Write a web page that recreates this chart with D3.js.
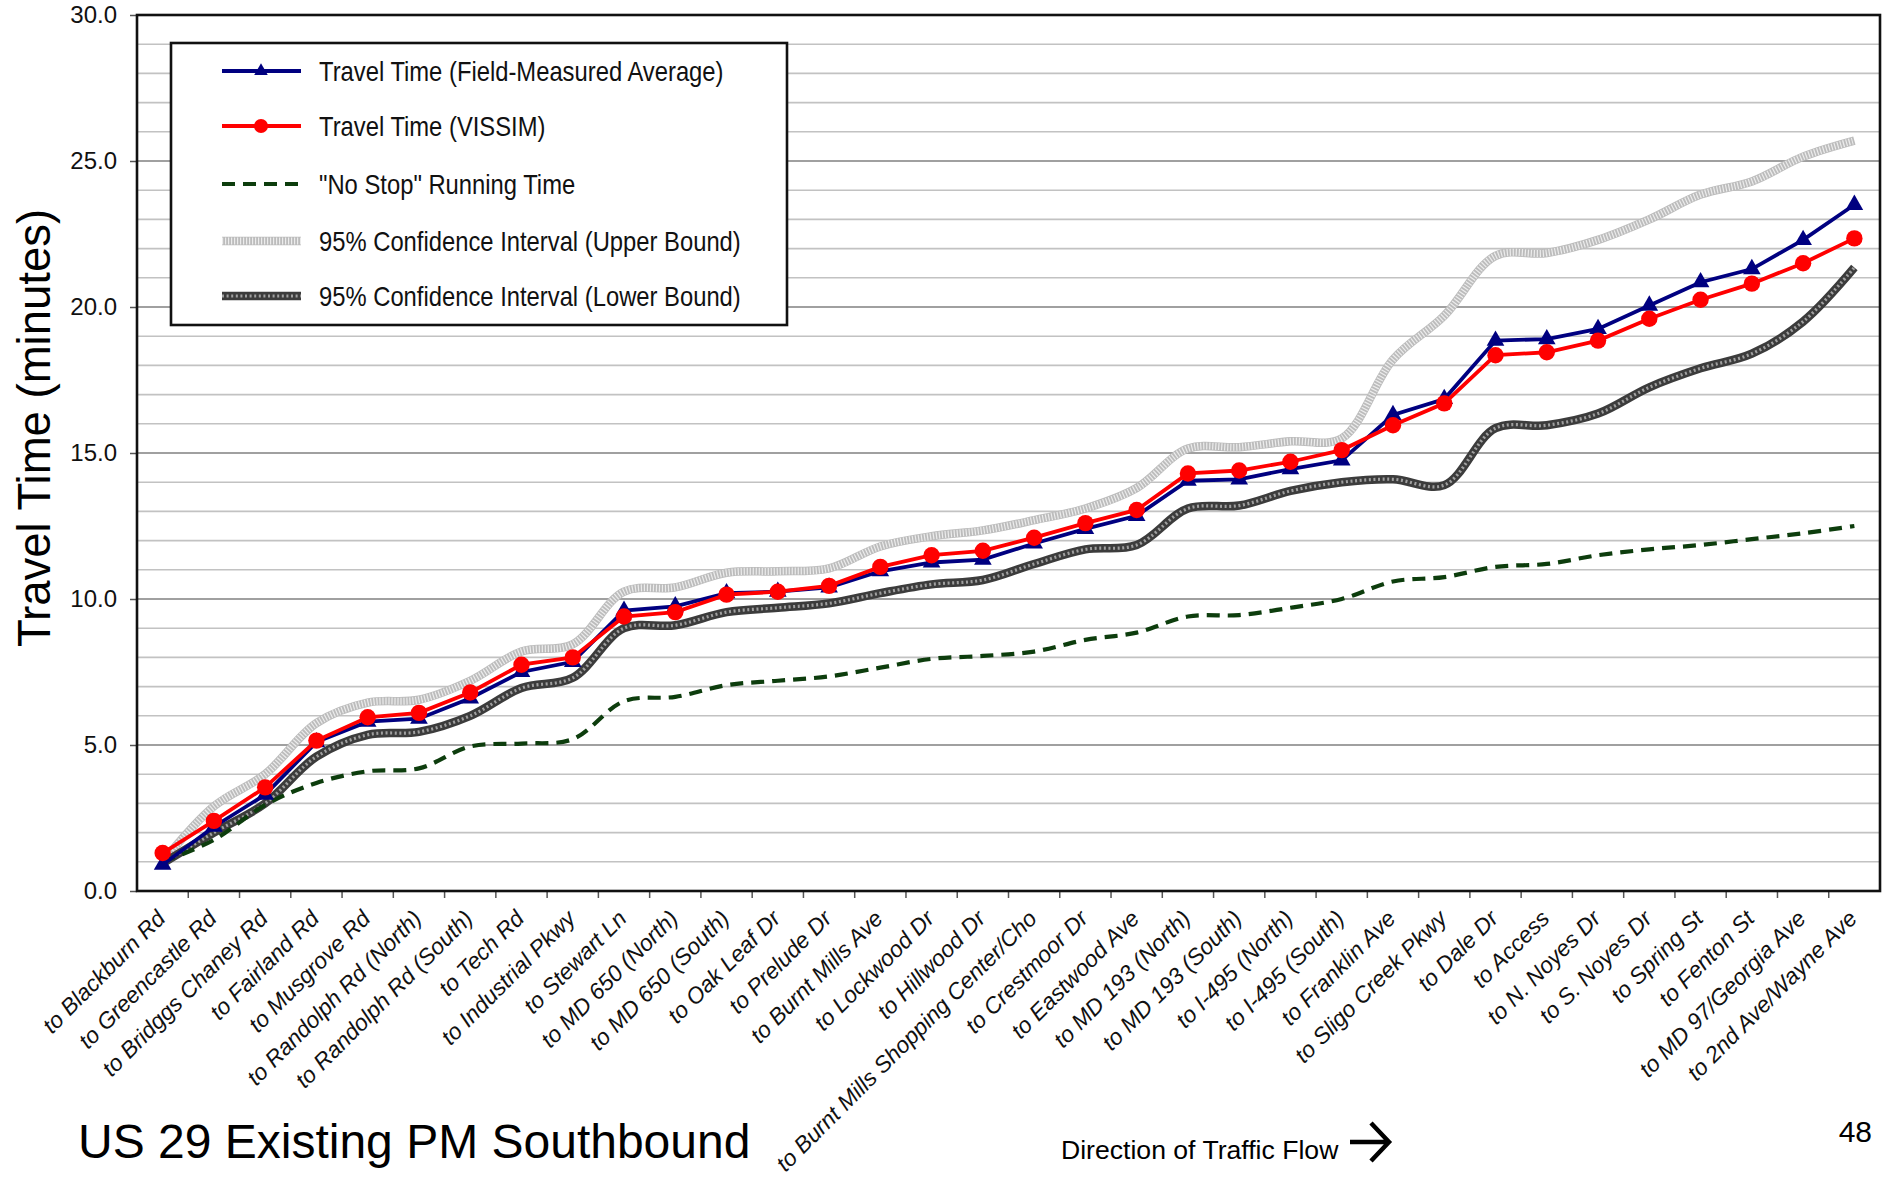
<!DOCTYPE html>
<html>
<head>
<meta charset="utf-8">
<script src="https://cdn.jsdelivr.net/npm/d3@7"></script>
<style>
  html, body { margin: 0; padding: 0; background: #ffffff; }
  svg { display: block; }
</style>
</head>
<body>
<svg id="chart" width="1886" height="1179"></svg>
<script>
// Segments along US 29 southbound, PM peak
const categories = [
  "to Blackburn Rd", "to Greencastle Rd", "to Bridggs Chaney Rd", "to Fairland Rd",
  "to Musgrove Rd", "to Randolph Rd (North)", "to Randolph Rd (South)", "to Tech Rd",
  "to Industrial Pkwy", "to Stewart Ln", "to MD 650 (North)", "to MD 650 (South)",
  "to Oak Leaf Dr", "to Prelude Dr", "to Burnt Mills Ave", "to Lockwood Dr",
  "to Hillwood Dr", "to Burnt Mills Shopping Center/Cho", "to Crestmoor Dr", "to Eastwood Ave",
  "to MD 193 (North)", "to MD 193 (South)", "to I-495 (North)", "to I-495 (South)",
  "to Franklin Ave", "to Sligo Creek Pkwy", "to Dale Dr", "to Access",
  "to N. Noyes Dr", "to S. Noyes Dr", "to Spring St", "to Fenton St",
  "to MD 97/Georgia Ave", "to 2nd Ave/Wayne Ave"
];

// Cumulative travel time (minutes)
const fieldMeasured = [
  0.9, 2.2, 3.3, 5.1, 5.8, 5.9, 6.6, 7.5, 7.85, 9.6, 9.75, 10.2,
  10.25, 10.4, 10.95, 11.25, 11.35, 11.9, 12.4, 12.85, 14.05, 14.1, 14.45, 14.75,
  16.3, 16.85, 18.85, 18.9, 19.25, 20.05, 20.85, 21.3, 22.3, 23.5
];
const vissim = [
  1.3, 2.4, 3.55, 5.15, 5.95, 6.1, 6.8, 7.75, 8.0, 9.4, 9.55, 10.15,
  10.25, 10.45, 11.1, 11.5, 11.65, 12.1, 12.6, 13.05, 14.3, 14.4, 14.7, 15.1,
  15.95, 16.7, 18.35, 18.45, 18.85, 19.6, 20.25, 20.8, 21.5, 22.35
];
const noStop = [
  1.0, 1.75, 2.95, 3.7, 4.1, 4.2, 4.95, 5.05, 5.2, 6.5, 6.65, 7.05,
  7.2, 7.35, 7.65, 7.95, 8.05, 8.2, 8.6, 8.85, 9.4, 9.45, 9.7, 10.0,
  10.6, 10.75, 11.1, 11.2, 11.5, 11.7, 11.85, 12.05, 12.25, 12.5
];
const ciUpper = [
  1.0, 2.9, 4.0, 5.75, 6.45, 6.55, 7.2, 8.2, 8.45, 10.25, 10.4, 10.9,
  10.95, 11.05, 11.8, 12.15, 12.35, 12.7, 13.1, 13.8, 15.15, 15.2, 15.4, 15.5,
  18.2, 19.7, 21.75, 21.85, 22.3, 23.0, 23.85, 24.3, 25.15, 25.7
];
const ciLower = [
  0.95, 2.0, 3.0, 4.6, 5.35, 5.45, 6.0, 6.95, 7.3, 9.0, 9.1, 9.55,
  9.7, 9.85, 10.2, 10.5, 10.65, 11.2, 11.7, 11.85, 13.1, 13.2, 13.7, 14.0,
  14.1, 13.9, 15.85, 15.95, 16.35, 17.25, 17.9, 18.4, 19.5, 21.35
];

const yTicks = [0, 5, 10, 15, 20, 25, 30];
const legendLabels = [
  "Travel Time (Field-Measured Average)",
  "Travel Time (VISSIM)",
  "\"No Stop\" Running Time",
  "95% Confidence Interval (Upper Bound)",
  "95% Confidence Interval (Lower Bound)"
];

const svg = d3.select("#chart");
const plot = { left: 137, right: 1880, top: 15, bottom: 891 };
const sans = "'Liberation Sans', Arial, Helvetica, sans-serif";

const x = d3.scaleBand().domain(categories).range([plot.left, plot.right]).padding(0);
const y = d3.scaleLinear().domain([0, 30]).range([plot.bottom, plot.top]);
const cx = c => x(c) + x.bandwidth() / 2;

// Horizontal gridlines, one per minute
const grid = svg.append("g");
grid.selectAll("line")
  .data(d3.range(1, 30))
  .join("line")
  .attr("x1", plot.left).attr("x2", plot.right)
  .attr("y1", d => y(d)).attr("y2", d => y(d))
  .attr("stroke", d => d % 5 === 0 ? "#a0a0a0" : "#c2c2c2")
  .attr("stroke-width", d => d % 5 === 0 ? 2 : 1.6);

// Y axis
const yAxis = svg.append("g")
  .attr("transform", `translate(${plot.left},0)`)
  .call(d3.axisLeft(y).tickValues(yTicks).tickFormat(d3.format(".1f")).tickSize(7).tickPadding(13));
yAxis.select(".domain").remove();
yAxis.selectAll(".tick line").attr("stroke", "#555").attr("stroke-width", 1.5);
yAxis.selectAll(".tick text")
  .attr("font-family", sans).attr("font-size", 24).attr("fill", "#111");

// Category boundary ticks on the x axis
svg.append("g").selectAll("line")
  .data(categories.slice(1))
  .join("line")
  .attr("x1", d => x(d)).attr("x2", d => x(d))
  .attr("y1", plot.bottom).attr("y2", plot.bottom + 7)
  .attr("stroke", "#555").attr("stroke-width", 1.5);

// Rotated category labels
svg.append("g").selectAll("text")
  .data(categories)
  .join("text")
  .attr("transform", d => `translate(${cx(d) + 4},${plot.bottom + 29}) rotate(-45)`)
  .attr("text-anchor", "end")
  .attr("font-family", sans)
  .attr("font-style", "italic")
  .attr("font-size", 22.8)
  .attr("fill", "#111")
  .text(d => d);

// Series lines
const pts = vals => categories.map((c, i) => [cx(c), y(vals[i])]);
const smooth = d3.line().curve(d3.curveCatmullRom.alpha(0.5));
const straight = d3.line();

const series = svg.append("g");

function drawUpper(g, path) {
  g.append("path").attr("d", path).attr("fill", "none")
    .attr("stroke", "#bcbcbc").attr("stroke-width", 8.5);
  g.append("path").attr("d", path).attr("fill", "none")
    .attr("stroke", "#ececec").attr("stroke-width", 7)
    .attr("stroke-dasharray", "1.2,1.8");
}
function drawLower(g, path) {
  g.append("path").attr("d", path).attr("fill", "none")
    .attr("stroke", "#3c3c3c").attr("stroke-width", 8.5);
  g.append("path").attr("d", path).attr("fill", "none")
    .attr("stroke", "#a0a0a0").attr("stroke-width", 3.2)
    .attr("stroke-dasharray", "2,2.6");
}
function drawNoStop(g, path) {
  g.append("path").attr("d", path).attr("fill", "none")
    .attr("stroke", "#0d3d0d").attr("stroke-width", 4.2)
    .attr("stroke-dasharray", "13,8");
}

drawUpper(series, smooth(pts(ciUpper)));
drawLower(series, smooth(pts(ciLower)));
drawNoStop(series, smooth(pts(noStop)));

// Field-measured average: navy with triangles
series.append("path").attr("d", straight(pts(fieldMeasured)))
  .attr("fill", "none").attr("stroke", "#000080").attr("stroke-width", 3.8);
const tri = d3.symbol(d3.symbolTriangle, 135);
series.append("g").selectAll("path")
  .data(categories)
  .join("path")
  .attr("d", tri)
  .attr("transform", (d, i) => `translate(${cx(d)},${y(fieldMeasured[i])})`)
  .attr("fill", "#000080");

// VISSIM: red with circles
series.append("path").attr("d", straight(pts(vissim)))
  .attr("fill", "none").attr("stroke", "#ff0000").attr("stroke-width", 3.8);
series.append("g").selectAll("circle")
  .data(categories)
  .join("circle")
  .attr("cx", d => cx(d))
  .attr("cy", (d, i) => y(vissim[i]))
  .attr("r", 8.2)
  .attr("fill", "#ff0000");

// Plot frame
svg.append("rect")
  .attr("x", plot.left).attr("y", plot.top)
  .attr("width", plot.right - plot.left).attr("height", plot.bottom - plot.top)
  .attr("fill", "none").attr("stroke", "#111").attr("stroke-width", 2.6);

// Legend
const lg = svg.append("g");
lg.append("rect")
  .attr("x", 171).attr("y", 43).attr("width", 616).attr("height", 282)
  .attr("fill", "#ffffff").attr("stroke", "#111").attr("stroke-width", 2.6);
const rowY = [71, 126, 184, 241, 296];
const sx1 = 222, sx2 = 301, smid = 261;
// row 0
lg.append("line").attr("x1", sx1).attr("x2", sx2).attr("y1", rowY[0]).attr("y2", rowY[0])
  .attr("stroke", "#000080").attr("stroke-width", 4.2);
lg.append("path").attr("d", d3.symbol(d3.symbolTriangle, 80)).attr("transform", `translate(${smid},${rowY[0]})`)
  .attr("fill", "#000080");
// row 1
lg.append("line").attr("x1", sx1).attr("x2", sx2).attr("y1", rowY[1]).attr("y2", rowY[1])
  .attr("stroke", "#ff0000").attr("stroke-width", 4.2);
lg.append("circle").attr("cx", smid).attr("cy", rowY[1]).attr("r", 7).attr("fill", "#ff0000");
// rows 2-4
drawNoStop(lg, straight([[sx1, rowY[2]], [sx2, rowY[2]]]));
drawUpper(lg, straight([[sx1, rowY[3]], [sx2, rowY[3]]]));
drawLower(lg, straight([[sx1, rowY[4]], [sx2, rowY[4]]]));
// condensed legend lettering
lg.selectAll("text.lab")
  .data(legendLabels)
  .join("text")
  .attr("class", "lab")
  .attr("transform", (d, i) => `translate(319,${rowY[i]}) scale(0.85,1)`)
  .attr("dy", "0.35em")
  .attr("font-family", sans)
  .attr("font-size", 28)
  .attr("fill", "#111")
  .text(d => d);

// Y axis title
svg.append("text")
  .attr("transform", "translate(50,428) rotate(-90)")
  .attr("text-anchor", "middle")
  .attr("font-family", sans)
  .attr("font-size", 45.5)
  .attr("fill", "#000")
  .text("Travel Time (minutes)");

// Slide footer
svg.append("text")
  .attr("x", 78).attr("y", 1158)
  .attr("font-family", sans).attr("font-size", 48).attr("fill", "#000")
  .text("US 29 Existing PM Southbound");
svg.append("text")
  .attr("x", 1061).attr("y", 1159)
  .attr("font-family", sans).attr("font-size", 26.6).attr("fill", "#000")
  .text("Direction of Traffic Flow");
svg.append("path")
  .attr("d", "M1350,1142 H1387 M1371,1123 L1389,1142 L1371,1161")
  .attr("fill", "none").attr("stroke", "#000").attr("stroke-width", 4.5);
svg.append("text")
  .attr("x", 1872).attr("y", 1142).attr("text-anchor", "end")
  .attr("font-family", sans).attr("font-size", 30).attr("fill", "#000")
  .text("48");
</script>
</body>
</html>
